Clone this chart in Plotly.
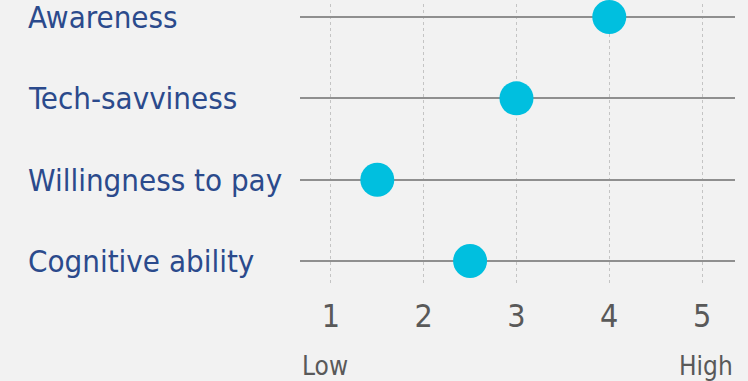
import plotly.graph_objects as go

# rating data (1 = low, 5 = high)
categories = ["Cognitive ability", "Willingness to pay", "Tech-savviness", "Awareness"]
scores = [2.5, 1.5, 3, 4]
tick_values = [1, 2, 3, 4, 5]
scale_labels = ["Low", "High"]

BLUE = "#2B4A8C"
DOT = "#00BFDF"
FONT = "DejaVu Sans Condensed, DejaVu Sans, sans-serif"

fig = go.Figure()
fig.add_trace(go.Scatter(
    x=scores, y=categories, mode="markers",
    marker=dict(size=34, color=DOT), cliponaxis=False, showlegend=False,
))

annotations = []
for cat in categories:
    annotations.append(dict(text=cat, x=-0.63, xref="paper", y=cat, yref="y",
                            xanchor="left", yanchor="middle", showarrow=False,
                            font=dict(family=FONT, size=31, color=BLUE)))
annotations.append(dict(text=scale_labels[0], x=0, xref="paper", y=-0.235, yref="paper",
                        xanchor="left", yanchor="top", showarrow=False,
                        font=dict(family=FONT, size=26, color="#595959")))
annotations.append(dict(text=scale_labels[1], x=1, xref="paper", y=-0.235, yref="paper",
                        xanchor="right", yanchor="top", showarrow=False,
                        font=dict(family=FONT, size=26, color="#595959")))

fig.update_layout(
    width=748, height=381,
    margin=dict(l=300, r=13, t=4, b=98),
    paper_bgcolor="#F2F2F2", plot_bgcolor="#F2F2F2",
    annotations=annotations,
    xaxis=dict(range=[0.667, 5.355], tickvals=tick_values, showgrid=True,
               gridcolor="#C4C4C4", griddash="dot", gridwidth=1, zeroline=False,
               showline=False, ticks="", ticklabelstandoff=11,
               tickfont=dict(family=FONT, size=32, color="#595959")),
    yaxis=dict(range=[-0.27, 3.16], categoryorder="array", categoryarray=categories,
               showgrid=True, gridcolor="#8F8F8F", gridwidth=2, zeroline=False,
               showticklabels=False, ticks="", showline=False),
)

fig.write_html("out.html", config={"displayModeBar": False},
               post_script="document.body.style.margin='0';")
